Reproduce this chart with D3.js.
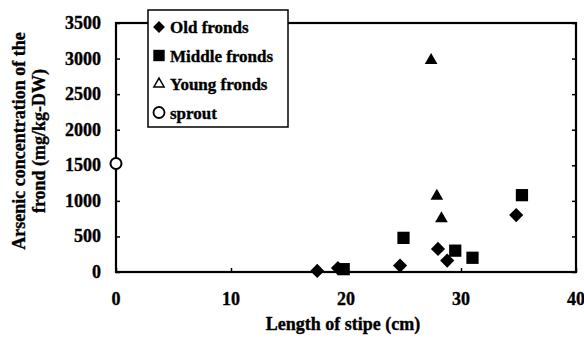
<!DOCTYPE html>
<html>
<head>
<meta charset="utf-8">
<script src="https://cdn.jsdelivr.net/npm/d3@7"></script>
<style>
  body { margin: 0; background: #fff; }
  svg { font-family: "Liberation Serif", "Times New Roman", serif; font-weight: bold; }
  svg text { stroke: #000; stroke-width: 0.35px; }
</style>
</head>
<body>
<div id="chart"></div>
<script>

// values: [stipe length (cm), arsenic (mg/kg-DW)]
var oldFronds = [[17.5, 15], [19.3, 55], [24.7, 90], [28.0, 325], [28.8, 160], [34.8, 800]];
var middleFronds = [[19.8, 40], [25.0, 480], [29.5, 300], [31.0, 200], [35.3, 1080]];
var youngFronds = [[27.4, 2990], [27.9, 1080], [28.3, 765]];
var sprout = [[0, 1525]];

var xTicks = [0, 10, 20, 30, 40];
var yTicks = [0, 500, 1000, 1500, 2000, 2500, 3000, 3500];
var legendNames = ["Old fronds", "Middle fronds", "Young fronds", "sprout"];

var width = 584, height = 347;
var margin = {left: 116, right: 8, top: 23, bottom: 75};
var fs = 18;

var svg = d3.select("#chart").append("svg")
    .attr("width", width)
    .attr("height", height);

var x = d3.scaleLinear().domain([0, 40]).range([margin.left, width - margin.right]);
var y = d3.scaleLinear().domain([0, 3500]).range([height - margin.bottom, margin.top]);

// frame
svg.append("rect")
    .attr("x", x(0)).attr("y", y(3500))
    .attr("width", x(40) - x(0)).attr("height", y(0) - y(3500))
    .attr("fill", "none").attr("stroke", "#000").attr("stroke-width", 2.2);

// left axis, ticks pointing inward
var yAxis = svg.append("g")
    .attr("transform", "translate(" + x(0) + ",0)")
    .call(d3.axisRight(y).tickValues(yTicks).tickSize(4).tickFormat(""));
yAxis.select(".domain").remove();
yAxis.selectAll("line").attr("stroke-width", 1.5);

// right side ticks
var yAxisR = svg.append("g")
    .attr("transform", "translate(" + x(40) + ",0)")
    .call(d3.axisLeft(y).tickValues(yTicks).tickSize(4).tickFormat(""));
yAxisR.select(".domain").remove();
yAxisR.selectAll("line").attr("stroke-width", 1.5);

// bottom ticks, pointing up
var xAxis = svg.append("g")
    .attr("transform", "translate(0," + y(0) + ")")
    .call(d3.axisTop(x).tickValues(xTicks).tickSize(4).tickFormat(""));
xAxis.select(".domain").remove();
xAxis.selectAll("line").attr("stroke-width", 1.5);

// tick labels
svg.selectAll(".ylab").data(yTicks).enter().append("text")
    .attr("x", 101)
    .attr("y", function(d) { return y(d) + 6; })
    .attr("text-anchor", "end")
    .attr("font-size", fs)
    .text(function(d) { return d; });

svg.selectAll(".xlab").data(xTicks).enter().append("text")
    .attr("x", function(d) { return x(d); })
    .attr("y", 305)
    .attr("text-anchor", "middle")
    .attr("font-size", fs)
    .text(function(d) { return d; });

// axis titles
svg.append("text")
    .attr("x", 343).attr("y", 330)
    .attr("text-anchor", "middle")
    .attr("font-size", fs)
    .text("Length of stipe (cm)");

var yt = svg.append("text")
    .attr("transform", "translate(25,141) rotate(-90)")
    .attr("text-anchor", "middle")
    .attr("font-size", fs);
yt.append("tspan").attr("x", 0).attr("y", 0).text("Arsenic concentration of the");
yt.append("tspan").attr("x", 0).attr("y", 20).text("frond (mg/kg-DW)");

// markers
var diamond = d3.symbol().type(d3.symbolSquare).size(100);
var square = d3.symbol().type(d3.symbolSquare).size(150);
var triangle = d3.symbol().type(d3.symbolTriangle).size(70);

svg.selectAll(".old").data(oldFronds).enter().append("path")
    .attr("d", diamond)
    .attr("transform", function(d) { return "translate(" + x(d[0]) + "," + y(d[1]) + ") rotate(45)"; })
    .attr("fill", "#000");

svg.selectAll(".mid").data(middleFronds).enter().append("path")
    .attr("d", square)
    .attr("transform", function(d) { return "translate(" + x(d[0]) + "," + y(d[1]) + ")"; })
    .attr("fill", "#000");

svg.selectAll(".young").data(youngFronds).enter().append("path")
    .attr("d", triangle)
    .attr("transform", function(d) { return "translate(" + x(d[0]) + "," + (y(d[1]) + 1) + ")"; })
    .attr("fill", "#000");

svg.selectAll(".sprout").data(sprout).enter().append("circle")
    .attr("cx", function(d) { return x(d[0]); })
    .attr("cy", function(d) { return y(d[1]); })
    .attr("r", 5.5)
    .attr("fill", "#fff").attr("stroke", "#000").attr("stroke-width", 2);

// legend
var lg = svg.append("g").attr("transform", "translate(148,10)");
lg.append("rect")
    .attr("width", 140).attr("height", 117)
    .attr("fill", "#fff").attr("stroke", "#000").attr("stroke-width", 1.5);

var legendSym = [
  function(g) { g.append("path").attr("d", d3.symbol().type(d3.symbolSquare).size(70)).attr("transform", "rotate(45)").attr("fill", "#000"); },
  function(g) { g.append("path").attr("d", d3.symbol().type(d3.symbolSquare).size(130)).attr("fill", "#000"); },
  function(g) { g.append("path").attr("d", d3.symbol().type(d3.symbolTriangle).size(45)).attr("fill", "#fff").attr("stroke", "#000").attr("stroke-width", 1.5); },
  function(g) { g.append("circle").attr("r", 5.5).attr("fill", "#fff").attr("stroke", "#000").attr("stroke-width", 1.8); }
];

legendNames.forEach(function(name, i) {
    var row = lg.append("g").attr("transform", "translate(0," + (17 + i * 28.5) + ")");
    var s = row.append("g").attr("transform", "translate(11,0)");
    legendSym[i](s);
    row.append("text")
        .attr("x", 22).attr("y", 6)
        .attr("font-size", 17)
        .text(name);
});

</script>
</body>
</html>
